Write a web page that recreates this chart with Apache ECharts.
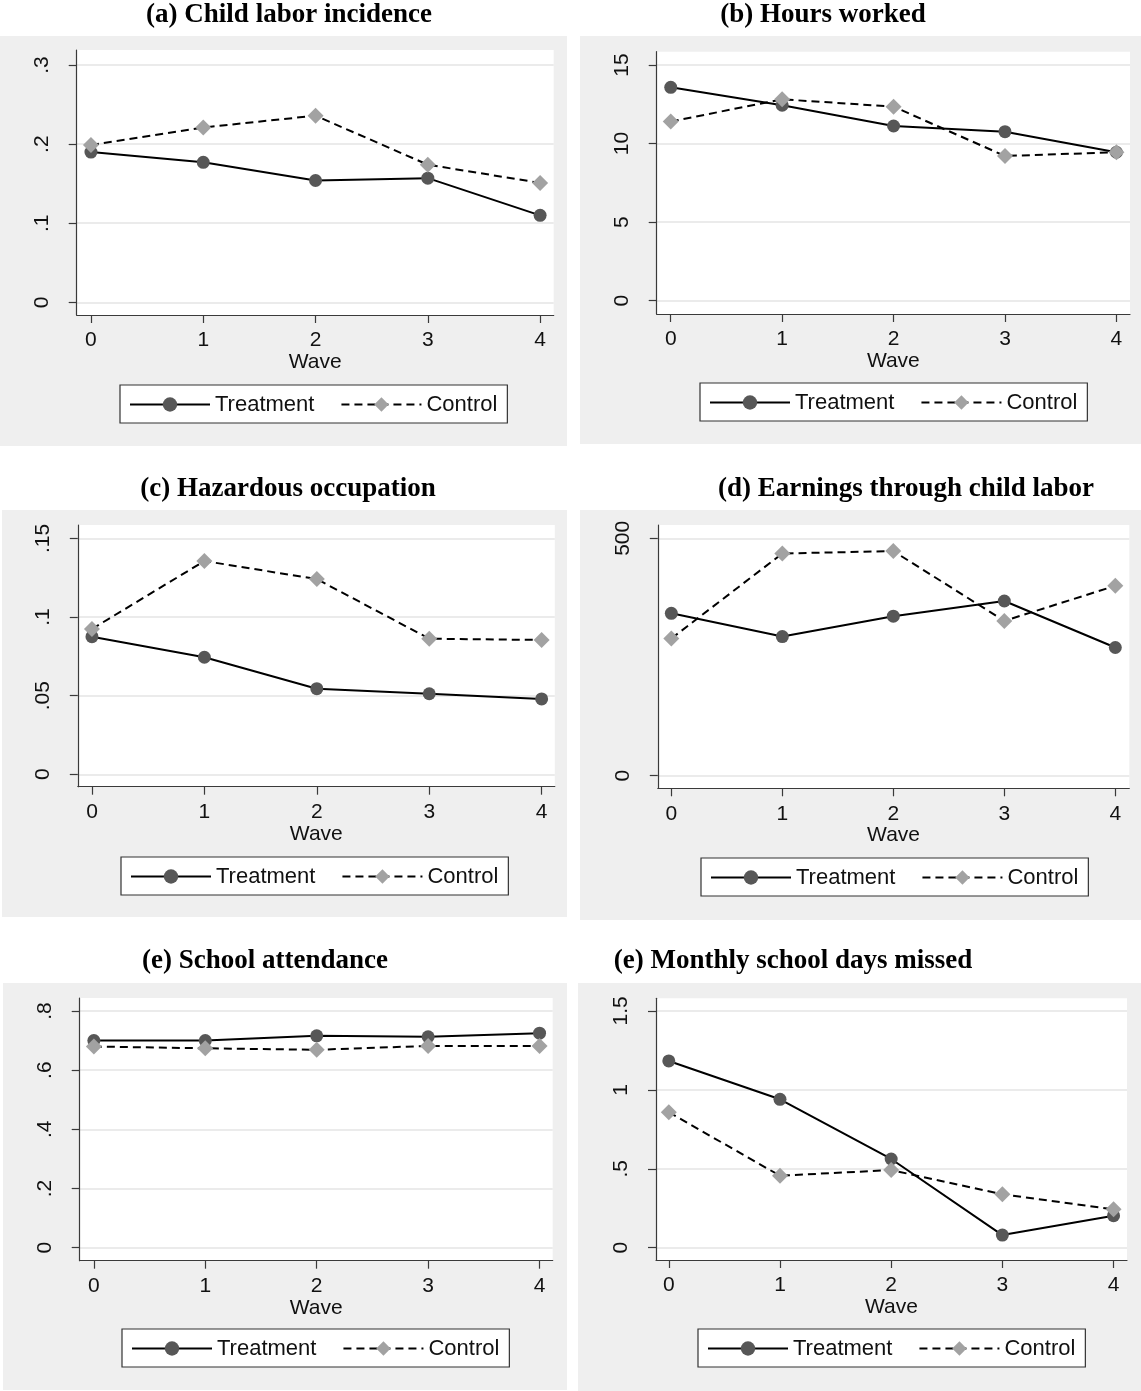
<!DOCTYPE html>
<html>
<head>
<meta charset="utf-8">
<script src="https://cdn.jsdelivr.net/npm/echarts@6/dist/echarts.min.js"></script>
<style>
html,body{margin:0;padding:0;background:#fff;}
#chart{width:1141px;height:1391px;}
</style>
</head>
<body>
<div id="chart"></div>
<script>
// ---------- data ----------
const waves = [0, 1, 2, 3, 4];
const seriesNames = ['Treatment', 'Control'];
const panelTitles = [
  '(a) Child labor incidence',
  '(b) Hours worked',
  '(c) Hazardous occupation',
  '(d) Earnings through child labor',
  '(e) School attendance',
  '(e) Monthly school days missed'
];
const treatA = [0.190, 0.177, 0.154, 0.157, 0.110];
const ctrlA  = [0.199, 0.221, 0.236, 0.174, 0.151];
const treatB = [13.58, 12.44, 11.12, 10.76, 9.45];
const ctrlB  = [11.40, 12.82, 12.35, 9.21, 9.45];
const treatC = [0.0875, 0.0744, 0.0544, 0.0512, 0.0479];
const ctrlC  = [0.0924, 0.1356, 0.1241, 0.0862, 0.0854];
const treatD = [342, 293, 336, 368, 270];
const ctrlD  = [289, 468, 473, 326, 400];
const treatE = [0.700, 0.700, 0.716, 0.713, 0.725];
const ctrlE  = [0.680, 0.674, 0.669, 0.682, 0.682];
const treatF = [1.183, 0.940, 0.562, 0.080, 0.203];
const ctrlF  = [0.858, 0.456, 0.492, 0.338, 0.243];

const yTicksA = [0, 0.1, 0.2, 0.3];     const yLabelsA = ['0', '.1', '.2', '.3'];
const yTicksB = [0, 5, 10, 15];         const yLabelsB = ['0', '5', '10', '15'];
const yTicksC = [0, 0.05, 0.1, 0.15];   const yLabelsC = ['0', '.05', '.1', '.15'];
const yTicksD = [0, 500];               const yLabelsD = ['0', '500'];
const yTicksE = [0, 0.2, 0.4, 0.6, 0.8]; const yLabelsE = ['0', '.2', '.4', '.6', '.8'];
const yTicksF = [0, 0.5, 1, 1.5];       const yLabelsF = ['0', '.5', '1', '1.5'];
const xLabels = ['0', '1', '2', '3', '4'];

// ---------- layout (pixels / axis extents) ----------
const panels = [
  {t: treatA, c: ctrlA, yt: yTicksA, yl: yLabelsA, grid: {left: 76.7, top: 50, width: 477, height: 265},
   xr: [-0.127, 4.121], yr: [-0.016, 0.319], bg: [0, 36, 567, 410], leg: [120, 385], title: [289, 16]},
  {t: treatB, c: ctrlB, yt: yTicksB, yl: yLabelsB, grid: {left: 656.7, top: 51.7, width: 473.3, height: 262.3},
   xr: [-0.126, 4.122], yr: [-0.85, 15.85], bg: [580, 36, 561, 408], leg: [700, 383], title: [823, 16]},
  {t: treatC, c: ctrlC, yt: yTicksC, yl: yLabelsC, grid: {left: 77.8, top: 525, width: 477, height: 261.7},
   xr: [-0.126, 4.117], yr: [-0.0079, 0.1585], bg: [2, 510, 565, 407], leg: [121, 857], title: [288, 490]},
  {t: treatD, c: ctrlD, yt: yTicksD, yl: yLabelsD, grid: {left: 657.8, top: 525, width: 471.5, height: 263.3},
   xr: [-0.122, 4.126], yr: [-26.5, 528], bg: [580, 510, 561, 410], leg: [701, 858], title: [906, 490]},
  {t: treatE, c: ctrlE, yt: yTicksE, yl: yLabelsE, grid: {left: 79.7, top: 998, width: 473, height: 262.7},
   xr: [-0.127, 4.118], yr: [-0.044, 0.844], bg: [3, 983, 564, 407], leg: [122, 1329], title: [265, 962]},
  {t: treatF, c: ctrlF, yt: yTicksF, yl: yLabelsF, grid: {left: 656, top: 998.3, width: 471, height: 261.7},
   xr: [-0.115, 4.121], yr: [-0.078, 1.58], bg: [578, 983, 563, 408], leg: [698, 1329], title: [793, 962]}
];

const SANS = '"Liberation Sans", Arial, sans-serif';
const SERIF = '"Liberation Serif", "Times New Roman", serif';
const axisColor = '#3a3a3a';

const option = {
  backgroundColor: '#ffffff',
  animation: false,
  title: [], grid: [], xAxis: [], yAxis: [], series: [], legend: [], graphic: []
};

panels.forEach((p, i) => {
  option.graphic.push({
    type: 'rect', z: -100, silent: true,
    shape: {x: p.bg[0], y: p.bg[1], width: p.bg[2], height: p.bg[3]},
    style: {fill: '#efefef'}
  });
  option.title.push({
    text: panelTitles[i], left: p.title[0], top: p.title[1] - 14, textAlign: 'center', padding: 0,
    textStyle: {fontFamily: SERIF, fontWeight: 'bold', fontSize: 27, color: '#000'}
  });
  option.grid.push(Object.assign({show: true, backgroundColor: '#ffffff', borderWidth: 0}, p.grid));
  option.xAxis.push({
    type: 'value', gridIndex: i, min: p.xr[0], max: p.xr[1],
    name: 'Wave', nameLocation: 'middle', nameGap: 36,
    nameTextStyle: {fontFamily: SANS, fontSize: 21, color: '#111'},
    axisLine: {show: true, onZero: false, lineStyle: {color: axisColor, width: 1.2}},
    axisTick: {show: true, length: 8, customValues: waves, lineStyle: {color: axisColor, width: 1.2}},
    axisLabel: {customValues: waves, margin: 15, fontFamily: SANS, fontSize: 21, color: '#111',
      formatter: v => xLabels[waves.indexOf(Math.round(v))]},
    splitLine: {show: false}
  });
  const yt = p.yt, yl = p.yl;
  option.yAxis.push({
    type: 'value', gridIndex: i, min: p.yr[0], max: p.yr[1],
    axisLine: {show: true, onZero: false, lineStyle: {color: axisColor, width: 1.2}},
    axisTick: {show: true, length: 8, customValues: yt, lineStyle: {color: axisColor, width: 1.2}},
    axisLabel: {customValues: yt, rotate: 90, margin: 24, fontFamily: SANS, fontSize: 21, color: '#111',
      formatter: v => {
        let best = 0;
        yt.forEach((t, k) => { if (Math.abs(t - v) < Math.abs(yt[best] - v)) best = k; });
        return yl[best];
      }},
    splitLine: {show: true, lineStyle: {color: '#e4e4e4', width: 1.6}}
  });
  option.series.push({
    name: seriesNames[0], type: 'line', xAxisIndex: i, yAxisIndex: i,
    data: waves.map((w, k) => [w, p.t[k]]),
    symbol: 'circle', symbolSize: 13,
    lineStyle: {color: '#000', width: 2, type: 'solid'},
    itemStyle: {color: '#575757', borderWidth: 0},
    z: 2
  });
  option.series.push({
    name: seriesNames[1], type: 'line', xAxisIndex: i, yAxisIndex: i,
    data: waves.map((w, k) => [w, p.c[k]]),
    symbol: 'diamond', symbolSize: 16,
    lineStyle: {color: '#000', width: 2, type: [8, 5]},
    itemStyle: {color: '#a2a2a2', borderWidth: 0},
    z: 3
  });
  option.legend.push({
    data: seriesNames, left: p.leg[0], top: p.leg[1], orient: 'horizontal',
    selectedMode: false,
    itemWidth: 80, itemHeight: 18, itemGap: 26,
    padding: [8, 10, 7, 9],
    backgroundColor: '#ffffff', borderColor: '#333', borderWidth: 1.2, borderRadius: 0,
    textStyle: {fontFamily: SANS, fontSize: 22, color: '#111', lineHeight: 23}
  });
});

const chart = echarts.init(document.getElementById('chart'), null, {renderer: 'canvas'});
chart.setOption(option);
</script>
</body>
</html>
